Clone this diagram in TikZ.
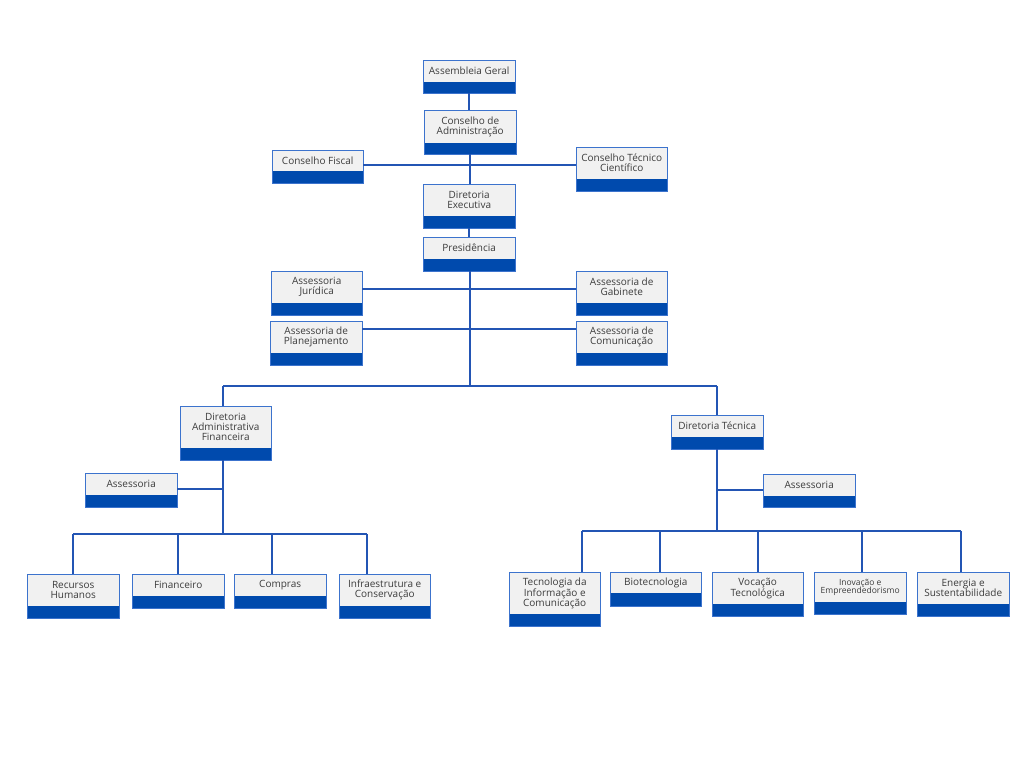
\documentclass[tikz,border=0pt]{standalone}
\usepackage{fontspec}
\setmainfont{Open Sans}
\definecolor{boxgray}{RGB}{241,241,241}
\definecolor{bandc}{RGB}{0,74,173}
\definecolor{edgec}{RGB}{60,115,205}
\definecolor{linec}{RGB}{35,85,180}
\definecolor{txt}{RGB}{60,60,60}
\tikzset{
  boxg/.style={fill=boxgray, draw=none, inner sep=0pt, align=center, text=txt,
    font=\fontsize{10}{10}\selectfont},
  smalltxt/.style={font=\fontsize{8.5}{8.5}\selectfont},
  boxedge/.style={draw=edgec, line width=1pt},
  conn/.style={draw=linec, line width=1.2pt},
}
% #1 opt style, #2 name, #3 x1, #4 y1, #5 x2, #6 band top, #7 y2, #8 text
\newcommand\obox[8][]{%
  \node[boxg,#1, minimum width={(#5-#3)*1pt}, minimum height={(#6-#4)*1pt}, anchor=north west] (#2) at (#3,#4) {#8};
  \fill[bandc] (#3,#6) rectangle (#5,#7);
  \draw[boxedge] (#3,#4) rectangle (#5,#7);
  \coordinate (#2-b) at ({(#3+#5)/2},#7);
}
\begin{document}
\begin{tikzpicture}[x=1pt,y=-1pt]
\fill[white] (0,0) rectangle (1024,768);
\useasboundingbox (0,0) rectangle (1024,768);

% top
\obox{ag}{423}{60}{515}{82}{93}{Assembleia Geral}
\obox{ca}{424}{110}{516}{143}{154}{Conselho de\\Administração}
\obox{cf}{272}{150}{363}{171}{183}{Conselho Fiscal}
\obox{ctc}{576}{147}{667}{179}{191}{Conselho Técnico\\Científico}
\obox{de}{423}{184}{515}{216}{228}{Diretoria\\Executiva}
\obox{pres}{423}{237}{515}{259}{271}{Presidência}
\obox{aj}{271}{271}{362}{303}{315}{Assessoria\\Jurídica}
\obox{agab}{576}{271}{667}{303}{315}{Assessoria de\\Gabinete}
\obox{apl}{270}{321}{362}{353}{365}{Assessoria de\\Planejamento}
\obox{acom}{576}{321}{667}{353}{365}{Assessoria de\\Comunicação}

% directorates
\obox{daf}{180}{406}{271}{448}{460}{Diretoria\\Administrativa\\Financeira}
\obox{dt}{671}{415}{763}{437}{449}{Diretoria Técnica}
\obox{asl}{85}{473}{177}{495}{507}{Assessoria}
\obox{asr}{763}{474}{855}{496}{507}{Assessoria}

% left bottom
\obox{rh}{27}{574}{119}{606}{618}{Recursos\\Humanos}
\obox{fin}{132}{574}{224}{596}{608}{Financeiro}
\obox{comp}{234}{574}{326}{596}{608}{Compras}
\obox{infra}{339}{574}{430}{606}{618}{Infraestrutura e\\Conservação}

% right bottom
\obox{tic}{509}{572}{600}{614}{626}{Tecnologia da\\Informação e\\Comunicação}
\obox{bio}{610}{572}{701}{593}{606}{Biotecnologia}
\obox{voc}{712}{572}{803}{604}{616}{Vocação\\Tecnológica}
\obox[smalltxt]{ino}{814}{572}{906}{602}{614}{Inovação e\\Empreendedorismo}
\obox{ene}{917}{572}{1009}{604}{616}{Energia e\\Sustentabilidade}

% junction coordinates
\coordinate (jc) at (469,165);
\coordinate (ja1) at (470,289);
\coordinate (ja2) at (470,329);
\coordinate (jp) at (470,386);
\coordinate (jl) at (223,386);
\coordinate (jr) at (717,386);
\coordinate (jal) at (223,489);
\coordinate (jar) at (717,490);
\coordinate (bl) at (223,534);
\coordinate (bl1) at (73,534);
\coordinate (bl2) at (178,534);
\coordinate (bl3) at (272,534);
\coordinate (bl4) at (367,534);
\coordinate (br) at (717,531);
\coordinate (br1) at (582,531);
\coordinate (br2) at (660,531);
\coordinate (br3) at (758,531);
\coordinate (br4) at (862,531);
\coordinate (br5) at (961,531);

% connectors
\draw[conn] (ag-b) -- (ag-b |- ca.north);
\draw[conn] (ca-b) -- (ca-b |- de.north);
\draw[conn] (cf.east |- jc) -- (ctc.west |- jc);
\draw[conn] (de-b) -- (de-b |- pres.north);
\draw[conn] (pres-b -| jp) -- (jp);
\draw[conn] (aj.east |- ja1) -- (agab.west |- ja1);
\draw[conn] (apl.east |- ja2) -- (acom.west |- ja2);
\draw[conn] (jl) -- (jr);
\draw[conn] (jl) -- (jl |- daf.north);
\draw[conn] (jr) -- (jr |- dt.north);
\draw[conn] (jl |- daf-b) -- (bl);
\draw[conn] (asl.east |- jal) -- (jal);
\draw[conn] (bl1) -- (bl4);
\draw[conn] (bl1) -- (bl1 |- rh.north);
\draw[conn] (bl2) -- (bl2 |- fin.north);
\draw[conn] (bl3) -- (bl3 |- comp.north);
\draw[conn] (bl4) -- (bl4 |- infra.north);
\draw[conn] (jr |- dt-b) -- (br);
\draw[conn] (jar) -- (asr.west |- jar);
\draw[conn] (br1) -- (br5);
\draw[conn] (br1) -- (br1 |- tic.north);
\draw[conn] (br2) -- (br2 |- bio.north);
\draw[conn] (br3) -- (br3 |- voc.north);
\draw[conn] (br4) -- (br4 |- ino.north);
\draw[conn] (br5) -- (br5 |- ene.north);
\end{tikzpicture}
\end{document}
